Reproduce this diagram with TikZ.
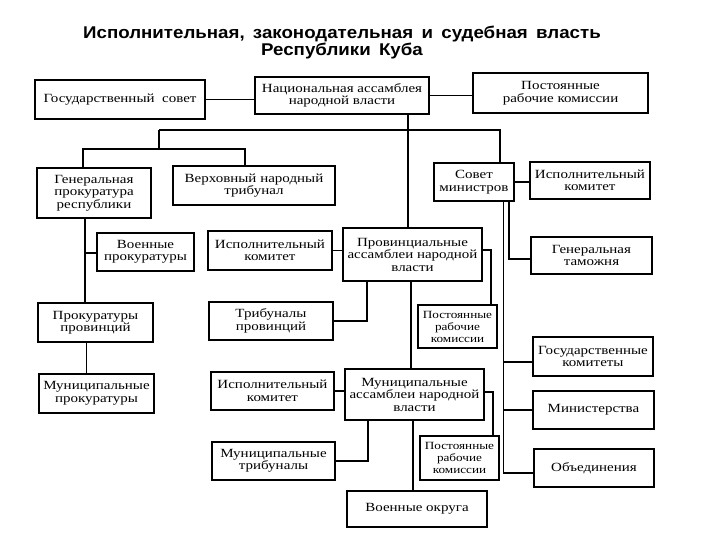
\documentclass[tikz,border=0pt]{standalone}
\usepackage{fontspec}
\setmainfont{Liberation Serif}[FakeStretch=1.2]
\newfontfamily\titlefont{Liberation Sans}[FakeStretch=1.1,WordSpace=1.6]
\usetikzlibrary{positioning}

\tikzset{
  box/.style={draw, line width=1.1pt, align=center, inner sep=1pt,
    font=\fontsize{12.5}{12.5}\selectfont},
  smallbox/.style={box, font=\fontsize{11}{12}\selectfont},
  link/.style={line width=1.1pt},
  faint/.style={line width=0.5pt}
}

\begin{document}
\begin{tikzpicture}[x=1pt,y=-1pt]
    \useasboundingbox (0,0) rectangle (720,540);

    % title
    \node[font=\titlefont\bfseries\fontsize{17}{17}\selectfont, align=center] (title) at (342,43)
         {Исполнительная, законодательная и судебная власть\\Республики Куба};

    % top level
    \node[box, minimum width=170pt, minimum height=39pt] (gs) at (120,99.5) {Государственный\ \ совет};
    \node[box, minimum width=174pt, minimum height=37pt] (nas) at (342,95.5) {Национальная ассамблея\\народной власти};
    \node[box, minimum width=175pt, minimum height=40pt] (pkt) at (560.5,93) {Постоянные\\рабочие комиссии};

    % courts and prosecutors
    \node[box, minimum width=114pt, minimum height=50pt] (gpr) at (94,193) {Генеральная\\прокуратура\\республики};
    \node[box, minimum width=162pt, minimum height=39pt] (vnt) at (254,185.5) {Верховный народный\\трибунал};
    \node[box, minimum width=97pt, minimum height=38pt] (vpr) at (145.5,252) {Военные\\прокуратуры};
    \node[box, minimum width=115pt, minimum height=39pt] (ppr) at (95.5,322.5) {Прокуратуры\\провинций};
    \node[box, minimum width=115pt, minimum height=39pt] (mpr) at (96.5,393.5) {Муниципальные\\прокуратуры};

    % provinces
    \node[box, minimum width=124pt, minimum height=39pt] (ikp) at (270,250.5) {Исполнительный\\комитет};
    \node[box, minimum width=139pt, minimum height=53pt] (pna) at (412.5,254.5) {Провинциальные\\ассамблеи народной\\власти};
    \node[box, minimum width=124pt, minimum height=38pt] (tpr) at (271,321) {Трибуналы\\провинций};
    \node[smallbox, minimum width=79pt, minimum height=43pt] (pkp) at (457.5,326.5) {Постоянные\\рабочие\\комиссии};

    % municipalities
    \node[box, minimum width=123pt, minimum height=38pt] (ikm) at (272.5,391) {Исполнительный\\комитет};
    \node[box, minimum width=139pt, minimum height=51pt] (mna) at (414.5,394.5) {Муниципальные\\ассамблеи народной\\власти};
    \node[box, minimum width=123pt, minimum height=38pt] (mtr) at (273.5,461) {Муниципальные\\трибуналы};
    \node[smallbox, minimum width=79pt, minimum height=44pt] (pkm) at (459.5,458) {Постоянные\\рабочие\\комиссии};
    \node[box, minimum width=140pt, minimum height=36pt] (vok) at (417,509) {Военные округа};

    % council of ministers
    \node[box, minimum width=80pt, minimum height=38pt] (sm) at (474,182) {Совет\\министров};
    \node[box, minimum width=120pt, minimum height=37pt] (ikr) at (590,180.5) {Исполнительный\\комитет};
    \node[box, minimum width=121pt, minimum height=37pt] (gt) at (591.5,255.5) {Генеральная\\таможня};
    \node[box, minimum width=120pt, minimum height=39pt] (gk) at (593,356.5) {Государственные\\комитеты};
    \node[box, minimum width=121pt, minimum height=38pt] (min) at (593.5,410) {Министерства};
    \node[box, minimum width=120pt, minimum height=38pt] (obd) at (594,468) {Объединения};

    % junctions
    \coordinate (nasleg) at (408,114);
    \coordinate (barl) at (159,130);
    \coordinate (barr) at (500,130);
    \coordinate (courtl) at (83,149);
    \coordinate (courtr) at (245,149);
    \coordinate (prosleg) at (85,253);
    \coordinate (mprleg) at (86,342);
    \coordinate (gtleg) at (509,259);
    \coordinate (minleg) at (503.5,473);
    \coordinate (gkjoin) at (503.5,362);
    \coordinate (tprleg) at (367,321);
    \coordinate (pkpleg) at (491,250);
    \coordinate (mnaleg) at (411,281);
    \coordinate (mtrleg) at (368,461);
    \coordinate (pkmleg) at (493,392);
    \coordinate (vokleg) at (413,420);

    % connectors
    \draw[link] (gs.east) -- (gs.east -| nas.west);
    \draw[link] (nas.east) -- (nas.east -| pkt.west);
    \draw[link] (nasleg) -- (nasleg |- pna.north);
    \draw[link] (barl) -- (barr) -- (barr |- sm.north);
    \draw[link] (barl) -- (barl |- courtl);
    \draw[link] (courtl |- gpr.north) -- (courtl) -- (courtr) -- (courtr |- vnt.north);
    \draw[link] (prosleg |- gpr.south) -- (prosleg |- ppr.north);
    \draw[link] (prosleg) -- (prosleg -| vpr.west);
    \draw[faint] (mprleg |- ppr.south) -- (mprleg |- mpr.north);

    \draw[link] (sm.east) -- (sm.east -| ikr.west);
    \draw[link] (gtleg |- sm.south) -- (gtleg) -- (gtleg -| gt.west);
    \draw[link] (minleg |- sm.south) -- (minleg) -- (minleg -| obd.west);
    \draw[link] (gkjoin) -- (gkjoin -| gk.west);
    \draw[link] (minleg |- min.west) -- (min.west);

    \draw[faint] (ikp.east) -- (ikp.east -| pna.west);
    \draw[link] (tpr.east) -- (tprleg) -- (tprleg |- pna.south);
    \draw[link] (pkpleg -| pna.east) -- (pkpleg) -- (pkpleg |- pkp.north);
    \draw[link] (mnaleg |- pna.south) -- (mnaleg |- mna.north);

    \draw[link] (ikm.east) -- (ikm.east -| mna.west);
    \draw[link] (mtr.east) -- (mtrleg) -- (mtrleg |- mna.south);
    \draw[link] (pkmleg -| mna.east) -- (pkmleg) -- (pkmleg |- pkm.north);
    \draw[link] (vokleg |- mna.south) -- (vokleg |- vok.north);
\end{tikzpicture}
\end{document}
